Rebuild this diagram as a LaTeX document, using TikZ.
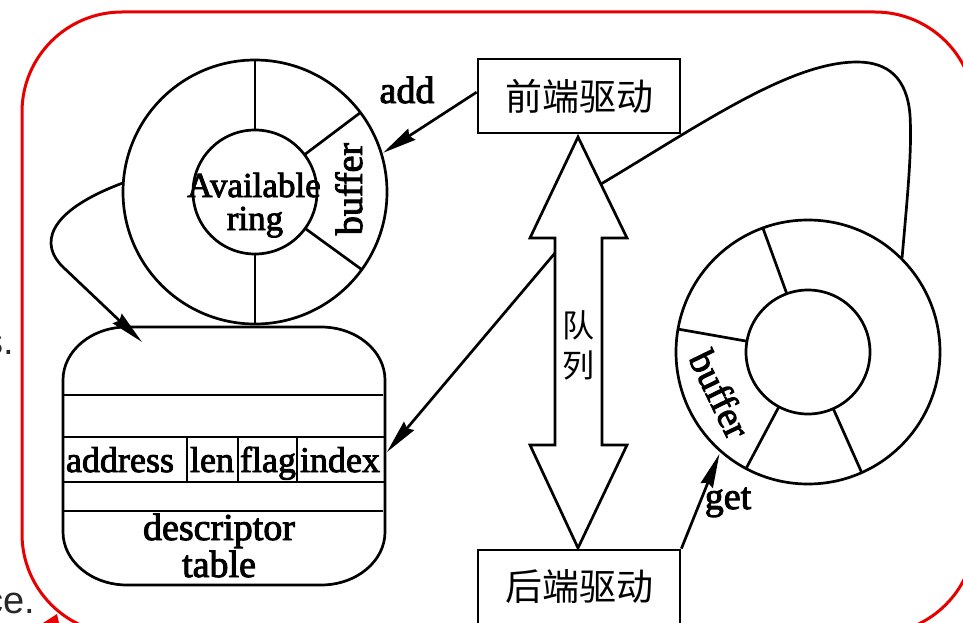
\documentclass[tikz,border=0pt]{standalone}
\usepackage{fontspec}
\setmainfont{Liberation Serif}[FakeBold=2.5]
\newfontfamily\cjk{Noto Sans CJK SC}
\newfontfamily\pagesans{Liberation Sans}
\usetikzlibrary{arrows.meta,calc}
\definecolor{framered}{RGB}{232,0,0}
\definecolor{pagegray}{RGB}{40,40,40}
\begin{document}
\begin{tikzpicture}[x=1pt,y=-1pt,
  ln/.style={line width=2.7pt, draw=black},
  arr/.style={line width=2.7pt, draw=black, -{Stealth[length=34pt,width=13pt,inset=3pt]}},
  lbl/.style={inner sep=0pt, font=\fontsize{38}{38}\selectfont},
  fld/.style={inner sep=0pt, font=\fontsize{36}{36}\selectfont},
  cn/.style={inner sep=0pt, font=\cjk\fontsize{37}{37}\selectfont},
  pg/.style={inner sep=0pt, text=pagegray, font=\pagesans\fontsize{38}{38}\selectfont},
]
\useasboundingbox (0,0) rectangle (963,623);

% stray page text
\node[pg, anchor=base east] (ps) at (14,354) {s.};
\node[pg, anchor=base east] (pc) at (35,613) {ce.};

% red frame
\draw[framered, line width=3pt, rounded corners=100pt] (22,12) rectangle (975,634);
\fill[framered] (43,623) -- (57,614) -- (59,623) -- cycle;

% ---------- left ring ----------
\coordinate (L) at (255,192);
\draw[ln] (L) circle (132pt);
\draw[ln] (L) circle (62pt);
\foreach \a in {90,-90,37,-36}
  \draw[ln] ($(L)+(\a:62pt)$) -- ($(L)+(\a:132pt)$);
\node[inner sep=0pt, font=\fontsize{35}{35}\selectfont, anchor=base] (av) at (254,197) {Available};
\node[inner sep=0pt, font=\fontsize{35}{35}\selectfont, anchor=base] (rg) at (255,230) {ring};
\node[lbl, rotate=90, anchor=base] (bufL) at (362,189) {buffer};

% ---------- right ring ----------
\coordinate (R) at (808,352);
\draw[ln] (R) circle (132pt);
\draw[ln] (R) circle (62pt);
\foreach \a in {110,170,242,294}
  \draw[ln] ($(R)+(\a:62pt)$) -- ($(R)+(\a:132pt)$);
\node[lbl, rotate=-64] (bufR) at (720,394) {buffer};

% ---------- driver boxes ----------
\node[ln, cn, minimum width=202pt, minimum height=74pt] (fe) at (579,96) {前端驱动};
\node[ln, cn, minimum width=202pt, minimum height=74pt] (be) at (579,587) {后端驱动};

% ---------- queue double arrow ----------
\draw[ln, line join=miter] (578,137) -- (627,238) -- (602,238) -- (602,445) -- (627,445)
  -- (578,548) -- (530,445) -- (555,445) -- (555,238) -- (530,238) -- cycle;
\coordinate (qleft) at (555,253);
\coordinate (qhead) at (601,184);
\node[inner sep=0pt, font=\cjk\fontsize{32}{32}\selectfont] (q1) at (578,325) {队};
\node[inner sep=0pt, font=\cjk\fontsize{32}{32}\selectfont] (q2) at (578,365) {列};

% ---------- descriptor table ----------
\draw[ln] (127,327) -- (321,327)
  arc[start angle=90, end angle=0, x radius=64pt, y radius=53pt] -- (385,532)
  arc[start angle=0, end angle=-90, x radius=64pt, y radius=53pt] -- (127,585)
  arc[start angle=-90, end angle=-180, x radius=64pt, y radius=53pt] -- (63,380)
  arc[start angle=180, end angle=90, x radius=64pt, y radius=53pt] -- cycle;
\draw[ln] (63,395) -- (383,395);
\draw[ln] (63,437) -- (385,437);
\draw[ln] (63,482) -- (385,482);
\draw[ln] (63,511) -- (383,511);
\foreach \x in {187,238,297}
  \draw[ln] (\x,437) -- (\x,482);
\node[fld, anchor=base] (f1) at (120,472) {address};
\node[fld, anchor=base] (f2) at (212,472) {len};
\node[fld, anchor=base] (f3) at (268,472) {flag};
\node[fld, anchor=base] (f4) at (340,472) {index};
\node[lbl, anchor=base] (d1) at (219,540) {descriptor};
\node[lbl, anchor=base] (d2) at (219,577) {table};
\coordinate (dtin) at (142,342);
\coordinate (dtidx) at (387,452);

% ---------- connectors ----------
\draw[arr] ($(fe.north west)!0.45!(fe.south west)$) -- ($(L)+(17:134pt)$);
\node[lbl, anchor=base] (add) at (407,103) {add};

\draw[arr] ($(L)+(176:132pt)$) .. controls (45,212) and (40,245) .. (63,267) -- (dtin);

\draw[arr] (qleft) -- (dtidx);

\draw[ln] ($(R)+(45:133pt)$) .. controls (908,190) and (912,150) .. (910,115)
  .. controls (907,78) and (888,62) .. (857,62)
  .. controls (790,62) and (700,125) .. (qhead);

\draw[arr] (be.north east) -- ($(R)+(229:135pt)$);
\node[lbl, anchor=base] (get) at (728,509) {get};
\end{tikzpicture}
\end{document}
